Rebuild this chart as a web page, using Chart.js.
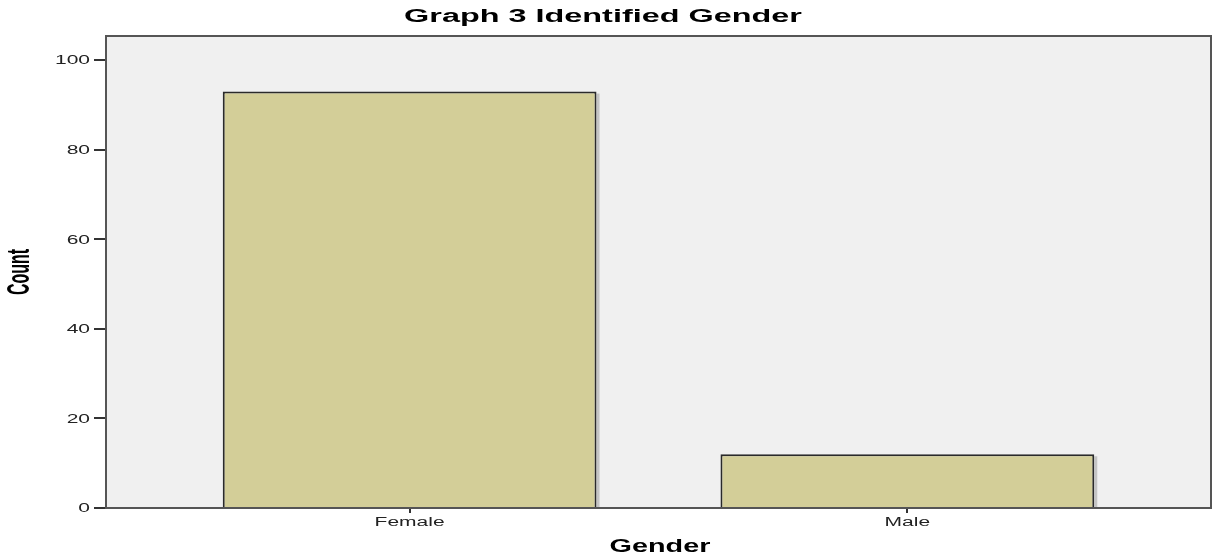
<!DOCTYPE html>
<html>
<head>
<meta charset="utf-8">
<script src="https://cdn.jsdelivr.net/npm/chart.js@4/dist/chart.umd.min.js"></script>
<style>
  html, body { margin: 0; padding: 0; background: #fff; }
  #wrap { width: 1214px; height: 559px; }
</style>
</head>
<body>
<div id="wrap"><canvas id="chart" width="1214" height="559"></canvas></div>
<script>
const categories = ['Female', 'Male'];
const counts = [93, 12];
const yTicks = [0, 20, 40, 60, 80, 100];

const titleText = 'Graph 3 Identified Gender';
const xTitle = 'Gender';
const yTitle = 'Count';

const FONT = '"Liberation Sans", Arial, sans-serif';

// the original picture is stretched sideways, so text gets a horizontal scale
function wideText(ctx, text, x, y, font, sx, align) {
  ctx.save();
  ctx.translate(x, y);
  ctx.scale(sx, 1);
  ctx.font = font;
  ctx.textAlign = align;
  ctx.textBaseline = 'middle';
  ctx.fillText(text, 0, 0);
  ctx.restore();
}

const framePlugin = {
  id: 'frame',
  beforeDraw(chart) {
    const { ctx, chartArea: a } = chart;
    ctx.save();
    ctx.fillStyle = '#f0f0f0';
    ctx.fillRect(a.left, a.top, a.right - a.left, a.bottom - a.top);
    ctx.restore();
  },
  afterDatasetsDraw(chart) {
    const { ctx, chartArea: a, scales } = chart;
    ctx.save();
    ctx.strokeStyle = '#555';
    ctx.lineWidth = 2;
    ctx.strokeRect(a.left, a.top, a.right - a.left, a.bottom - a.top);

    ctx.fillStyle = '#000';
    wideText(ctx, titleText, 603, 17, 'bold 18px ' + FONT, 1.8, 'center');
    wideText(ctx, xTitle, 660, 547, 'bold 18px ' + FONT, 1.6, 'center');

    // rotated y title, widened across the screen
    ctx.save();
    ctx.translate(20, 272);
    ctx.rotate(-Math.PI / 2);
    ctx.scale(1, 2);
    ctx.font = 'bold 16px ' + FONT;
    ctx.textAlign = 'center';
    ctx.textBaseline = 'middle';
    ctx.fillText(yTitle, 0, 0);
    ctx.restore();

    // tick labels from the scales
    ctx.fillStyle = '#222';
    scales.y.ticks.forEach(t => {
      wideText(ctx, String(t.value), 90, scales.y.getPixelForValue(t.value) + 1, '12px ' + FONT, 1.75, 'right');
    });
    scales.x.ticks.forEach(t => {
      wideText(ctx, categories[t.value], scales.x.getPixelForValue(t.value), 523, '12px ' + FONT, 1.75, 'center');
    });
    ctx.restore();
  }
};

// soft shadow on the right side of each bar
const shadowPlugin = {
  id: 'barShadow',
  beforeDatasetsDraw(chart) {
    const { ctx } = chart;
    ctx.save();
    ctx.fillStyle = 'rgba(0,0,0,0.18)';
    chart.getDatasetMeta(0).data.forEach(bar => {
      ctx.fillRect(bar.x + bar.width / 2, bar.y + 2, 3, bar.base - bar.y - 2);
    });
    ctx.restore();
  }
};

new Chart(document.getElementById('chart'), {
  type: 'bar',
  data: {
    datasets: [{
      data: categories.map((c, i) => ({ x: i, y: counts[i] })),
      backgroundColor: '#d3ce98',
      borderColor: '#2a2a2a',
      borderWidth: 2,
      borderSkipped: 'bottom',
      barPercentage: 0.751,
      categoryPercentage: 1
    }]
  },
  options: {
    responsive: false,
    animation: false,
    layout: { padding: { top: 36, right: 3, left: 0, bottom: 0 } },
    plugins: { legend: { display: false }, tooltip: { enabled: false } },
    scales: {
      x: {
        type: 'linear',
        min: -0.61,
        max: 1.61,
        offset: false,
        afterBuildTicks(scale) {
          scale.ticks = categories.map((c, i) => ({ value: i }));
        },
        afterFit(scale) { scale.height = 51; },
        grid: { offset: false, drawOnChartArea: false, drawTicks: true, tickLength: 5, color: '#333', lineWidth: 2 },
        border: { display: false },
        ticks: { display: false }
      },
      y: {
        min: 0,
        max: 105.4,
        afterBuildTicks(scale) {
          scale.ticks = yTicks.map(v => ({ value: v }));
        },
        afterFit(scale) { scale.width = 106; },
        grid: { drawOnChartArea: false, drawTicks: true, tickLength: 12, color: '#333', lineWidth: 2 },
        border: { display: false },
        ticks: { display: false }
      }
    }
  },
  plugins: [framePlugin, shadowPlugin]
});
</script>
</body>
</html>
